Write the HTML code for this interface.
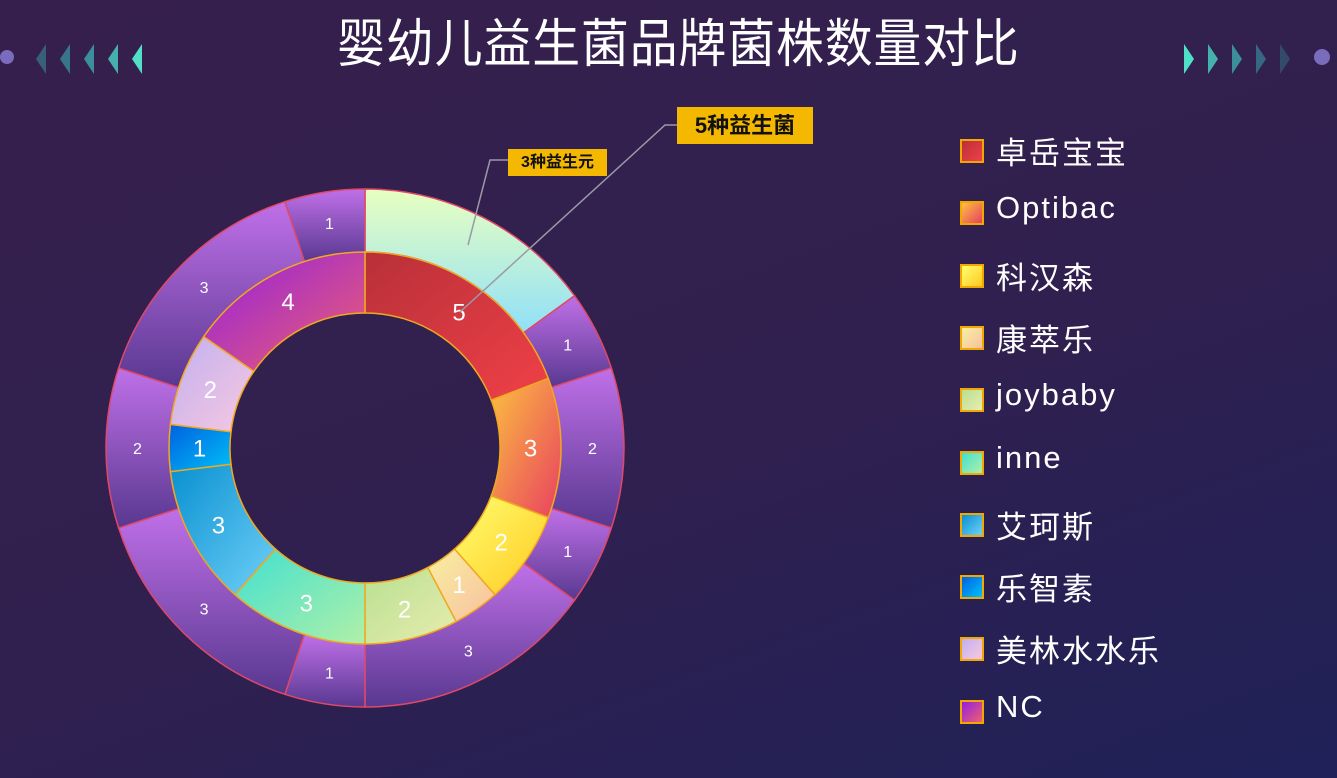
<!DOCTYPE html>
<html><head><meta charset="utf-8">
<style>
html,body{margin:0;padding:0}
body{width:1337px;height:778px;overflow:hidden;position:relative;
background:linear-gradient(160deg,#361f4c 0%,#30204f 55%,#1f2158 100%);
font-family:"Liberation Sans","Noto Sans CJK SC",sans-serif;color:#fff}
#title{position:absolute;left:0;width:1357px;top:2px;text-align:center;font-size:52px;letter-spacing:1px;font-family:"Liberation Sans","Noto Sans CJK SC",sans-serif;transform:scaleX(0.92)}
.legend{position:absolute;left:960px;top:0}
.li{position:absolute;left:0;height:40px;white-space:nowrap}
.sw{position:absolute;left:0;top:-11px;width:20px;height:20px;border:2px solid #f2a800}
.lt{position:absolute;left:36px;top:-22px;font-size:31px;letter-spacing:2px;font-family:"Liberation Sans","Noto Sans CJK SC",sans-serif}
.box{position:absolute;background:#f5b800;color:#111;font-weight:bold;text-align:center;font-family:"Liberation Sans","Noto Sans CJK SC",sans-serif}
</style></head><body>
<div id="title">婴幼儿益生菌品牌菌株数量对比</div>
<svg width="1337" height="778" style="position:absolute;left:0;top:0" id="svg">
<defs id="defs"></defs>
<g>
<circle cx="7" cy="57" r="7" fill="#8c7fd8" opacity="0.8"/>
<polygon points="46,44 36,59 46,74" fill="#3a8a9a" opacity="0.6"/>
<polygon points="70,44 60,59 70,74" fill="#3a9aa8" opacity="0.7"/>
<polygon points="94,44 84,59 94,74" fill="#40aab0" opacity="0.8"/>
<polygon points="118,44 108,59 118,74" fill="#48c0b8" opacity="0.9"/>
<polygon points="142,44 132,59 142,74" fill="#50e0c8"/>
</g>
<g>
<polygon points="1184,44 1194,59 1184,74" fill="#50e0c8"/>
<polygon points="1208,44 1218,59 1208,74" fill="#48c0b8" opacity="0.9"/>
<polygon points="1232,44 1242,59 1232,74" fill="#40aab0" opacity="0.8"/>
<polygon points="1256,44 1266,59 1256,74" fill="#3a9aa8" opacity="0.6"/>
<polygon points="1280,44 1290,59 1280,74" fill="#3a8a9a" opacity="0.4"/>
<circle cx="1322" cy="57" r="8" fill="#8c7fd8" opacity="0.8"/>
</g>
<g id="outer"></g><g id="inner"></g><g id="labels"></g>
<polyline points="460,312 665,125 677,125" fill="none" stroke="#9a9aa8" stroke-width="1.5"/>
<polyline points="468,245 490,160 508,160" fill="none" stroke="#9a9aa8" stroke-width="1.5"/>
</svg>
<div class="box" style="left:677px;top:107px;width:136px;height:37px;line-height:37px;font-size:22px">5种益生菌</div>
<div class="box" style="left:508px;top:149px;width:99px;height:27px;line-height:27px;font-size:16px">3种益生元</div>
<div class="legend" id="legend"></div>
<script>
const brands=["卓岳宝宝","Optibac","科汉森","康萃乐","joybaby","inne","艾珂斯","乐智素","美林水水乐","NC"];
const innerValues=[5,3,2,1,2,3,3,1,2,4];
const outerValues=[3,1,2,1,3,1,3,2,3,1];
const outerLabels=["","1","2","1","3","1","3","2","3","1"];
const innerColors=[["#b83038","#f04048"],["#fcc040","#e84060"],["#ffff70","#ffc820"],["#f8f0a0","#f8c0a0"],["#b8e090","#e8ecb0"],["#40e0d0","#b0f0a8"],["#0890d0","#70d0f8"],["#0060e0","#00c0f8"],["#c0b0f0","#f8c8e0"],["#9020e0","#f06070"]];
const outerColors=[["#e8ffc0","#90e0f8"],["#c070e8","#583890"]];
const NS="http://www.w3.org/2000/svg";
const cx=365,cy=448,R0=135,R1=196,R2=259;
const svg=document.getElementById('svg'),defs=document.getElementById('defs');
function grad(id,c,x1,y1,x2,y2){const g=document.createElementNS(NS,'linearGradient');g.id=id;g.setAttribute('x1',x1);g.setAttribute('y1',y1);g.setAttribute('x2',x2);g.setAttribute('y2',y2);
c.forEach((col,i)=>{const s=document.createElementNS(NS,'stop');s.setAttribute('offset',i);s.setAttribute('stop-color',col);g.appendChild(s)});defs.appendChild(g);}
function pt(r,a){return [cx+r*Math.sin(a),cy-r*Math.cos(a)];}
function arc(r1,r2,a0,a1){const l=(a1-a0)>Math.PI?1:0;const p=[pt(r2,a0),pt(r2,a1),pt(r1,a1),pt(r1,a0)];
return `M${p[0]}A${r2},${r2} 0 ${l} 1 ${p[1]}L${p[2]}A${r1},${r1} 0 ${l} 0 ${p[3]}Z`;}
function ring(vals,r1,r2,group,fillFn,stroke,labelFn,fs,nameFn){
 const tot=vals.reduce((a,b)=>a+b,0);let a=0;const g=document.getElementById(group),lg=document.getElementById('labels');
 vals.forEach((v,i)=>{const a1=a+v/tot*2*Math.PI;const p=document.createElementNS(NS,'path');
  p.setAttribute('d',arc(r1,r2,a,a1));p.setAttribute('fill',fillFn(i));p.setAttribute('stroke',stroke);p.setAttribute('stroke-width','1.5');
  
  
  g.appendChild(p);
  const lbl=labelFn(i);if(lbl!==""){const m=pt((r1+r2)/2,(a+a1)/2);const t=document.createElementNS(NS,'text');
   t.setAttribute('x',m[0]);t.setAttribute('y',m[1]+fs*0.36);t.setAttribute('text-anchor','middle');t.setAttribute('fill','#fff');t.setAttribute('font-size',fs);t.setAttribute('font-family','Liberation Sans, sans-serif');t.textContent=lbl;
   
   
   lg.appendChild(t);}
  a=a1;});
}
innerColors.forEach((c,i)=>grad('ig'+i,c,0,0,1,1));
grad('og0',outerColors[0],0,0,0,1);grad('og1',outerColors[1],0,0,0,1);
ring(outerValues,R1,R2,'outer',i=>i===0?'url(#og0)':'url(#og1)','#e04868',i=>outerLabels[i],16,i=>'outer-slice-'+i);
ring(innerValues,R0,R1,'inner',i=>'url(#ig'+i+')','#f0a820',i=>String(innerValues[i]),24,i=>'inner-slice-'+brands[i]);
const leg=document.getElementById('legend');
brands.forEach((b,i)=>{const d=document.createElement('div');d.className='li';d.style.top=(150+i*62.3)+'px';
 
 
 d.innerHTML=`<div class="sw" style="background:linear-gradient(135deg,${innerColors[i][0]},${innerColors[i][1]})"></div><div class="lt">${b}</div>`;leg.appendChild(d);});
</script>
</body></html>
